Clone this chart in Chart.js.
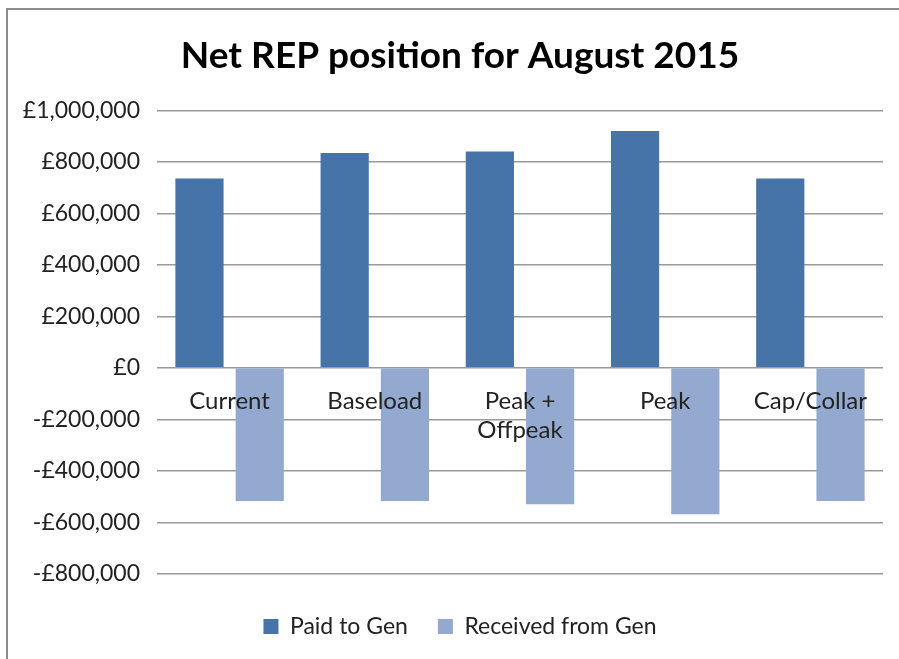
<!DOCTYPE html>
<html>
<head>
<meta charset="utf-8">
<script src="https://cdn.jsdelivr.net/npm/chart.js@4"></script>
<style>
  body { margin: 0; background: #fff; overflow: hidden; }
  #wrap {
    position: absolute; left: 6px; top: 8px;
    width: 905px; height: 651px;
    border-left: 2px solid #8c8c8c; border-top: 2px solid #8c8c8c;
  }
</style>
</head>
<body>
<div id="wrap"><canvas id="myChart" width="905" height="651"></canvas></div>
<script>
/*-----data-----*/
var categories = ['Current', 'Baseload', ['Peak +', 'Offpeak'], 'Peak', 'Cap/Collar'];
var paidToGen = [735000, 835000, 840000, 920000, 735000];
var receivedFromGen = [-517000, -517000, -530000, -569000, -517000];
var yTicks = [-800000, -600000, -400000, -200000, 0, 200000, 400000, 600000, 800000, 1000000];

function money(v) {
    var s = '£' + Math.abs(v).toLocaleString('en-GB');
    return v < 0 ? '-' + s : s;
}

/*------chart---------*/
var ctx = document.getElementById('myChart').getContext('2d');
var myChart = new Chart(ctx, {
    type: 'bar',
    data: {
        labels: categories,
        datasets: [{
            label: 'Paid to Gen',
            data: paidToGen,
            backgroundColor: '#4674a8'
        }, {
            label: 'Received from Gen',
            data: receivedFromGen,
            backgroundColor: '#94a9d0'
        }]
    },
    options: {
        responsive: false,
        animation: false,
        categoryPercentage: 0.83,
        barPercentage: 0.8,
        layout: { padding: { left: 0, right: 1, top: 0, bottom: 13 } },
        plugins: {
            title: {
                display: true,
                text: 'Net REP position for August 2015',
                color: '#000',
                font: { family: 'Lato', size: 37, weight: 'bold' },
                padding: { top: 24, bottom: 32 }
            },
            legend: {
                position: 'bottom',
                title: { display: true, text: '', font: { size: 1 }, padding: { top: 0, bottom: 10 } },
                labels: {
                    color: '#222',
                    boxWidth: 15,
                    boxHeight: 15,
                    padding: 30,
                    font: { family: 'Lato', size: 23 }
                }
            },
            tooltip: { enabled: false }
        },
        scales: {
            x: {
                position: { y: 0 },
                grid: { display: false },
                border: { display: false },
                ticks: {
                    z: 1,
                    color: '#222',
                    padding: 11,
                    maxRotation: 0,
                    autoSkip: false,
                    font: { family: 'Lato', size: 24 }
                }
            },
            y: {
                min: -800000,
                max: 1000000,
                afterBuildTicks: function(axis) {
                    axis.ticks = yTicks.map(function(v) { return { value: v }; });
                },
                afterFit: function(axis) {
                    axis.width = 149;
                },
                grid: { color: '#9a9a9a', lineWidth: 1.5, drawTicks: false },
                border: { display: false },
                ticks: {
                    color: '#222',
                    padding: 17,
                    font: { family: 'Lato', size: 23 },
                    callback: function(v) { return money(v); }
                }
            },
            // empty right axis, only there to keep title and legend centred like the original
            spacer: {
                type: 'linear',
                position: 'right',
                grid: { display: false },
                border: { display: false },
                ticks: { display: false },
                afterFit: function(axis) {
                    axis.width = 29;
                }
            }
        }
    }
});
</script>
</body>
</html>
